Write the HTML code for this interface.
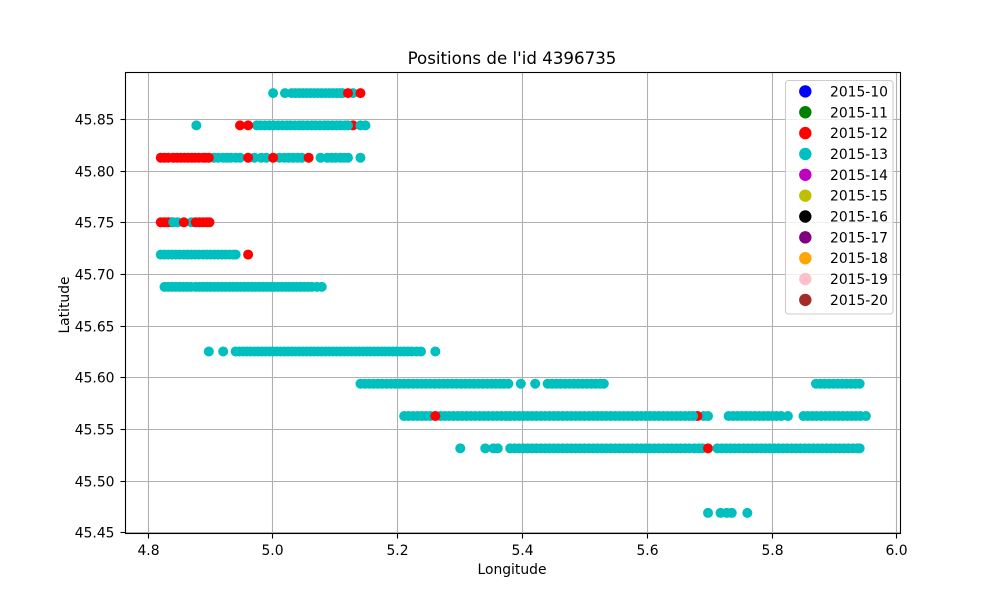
<!DOCTYPE html>
<html lang="en">
<head>
<meta charset="utf-8">
<title>Positions de l'id 4396735</title>
<style>
html,body{margin:0;padding:0;background:#fff;}
svg{display:block;}
text{font-family:"DejaVu Sans","Liberation Sans",sans-serif;fill:#000;}
</style>
</head>
<body>
<svg id="chart" xmlns="http://www.w3.org/2000/svg" width="1000" height="600" viewBox="0 0 1000 600">
  <rect x="0" y="0" width="1000" height="600" fill="#fff"/>
  <text x="512" y="64" font-size="16.67" text-anchor="middle">Positions de l'id 4396735</text>
  <text x="512" y="574" font-size="13.89" text-anchor="middle">Longitude</text>
  <text transform="translate(69,305) rotate(-90)" font-size="13.89" text-anchor="middle">Latitude</text>
  <g id="grid"></g>
  <g id="marks"></g>
  <rect x="125.5" y="72.5" width="775" height="461" fill="none" stroke="#000" stroke-width="1.1"/>
  <g id="ticks"></g>
  <g id="legend"></g>
</svg>
<script>
const xTickValues = [4.8, 5.0, 5.2, 5.4, 5.6, 5.8, 6.0];
const xTickLabels = ["4.8", "5.0", "5.2", "5.4", "5.6", "5.8", "6.0"];
const yTickValues = [45.45, 45.50, 45.55, 45.60, 45.65, 45.70, 45.75, 45.80, 45.85];
const yTickLabels = ["45.45", "45.50", "45.55", "45.60", "45.65", "45.70", "45.75", "45.80", "45.85"];
const legendLabels = ["2015-10", "2015-11", "2015-12", "2015-13", "2015-14", "2015-15", "2015-16", "2015-17", "2015-18", "2015-19", "2015-20"];
const rowLatitudes = [45.875, 45.84375, 45.8125, 45.75, 45.71875, 45.6875, 45.625, 45.59375, 45.5625, 45.53125, 45.46875];

const week13First = [
  [],
  [],
  [],
  [],
  [],
  [],
  [],
  [],
  [5.69, 5.697],
  [5.675, 5.682, 5.688],
  []
];
const week12Under = [
  [],
  [5.128],
  [],
  [4.82, 4.826, 4.832, 4.838],
  [],
  [],
  [],
  [],
  [5.68],
  [5.697],
  []
];
const week13Lons = [
  [5.0, 5.019, 5.03, 5.036, 5.042, 5.048, 5.054, 5.06, 5.066, 5.072, 5.078, 5.084, 5.09, 5.096, 5.102, 5.107, 5.111, 5.128],
  [4.877, 4.974, 4.98, 4.987, 4.994, 5.001, 5.008, 5.015, 5.022, 5.028, 5.035, 5.042, 5.048, 5.055, 5.062, 5.068, 5.075, 5.082, 5.088, 5.095, 5.102, 5.108, 5.115, 5.12, 5.14, 5.148],
  [4.905, 4.912, 4.92, 4.926, 4.932, 4.94, 4.947, 4.97, 4.981, 4.989, 5.01, 5.018, 5.025, 5.032, 5.039, 5.046, 5.076, 5.087, 5.094, 5.1, 5.108, 5.114, 5.12, 5.14],
  [4.84, 4.847, 4.869],
  [4.82, 4.826, 4.832, 4.838, 4.844, 4.85, 4.857, 4.863, 4.869, 4.875, 4.881, 4.888, 4.894, 4.9, 4.906, 4.912, 4.918, 4.924, 4.93, 4.936, 4.94],
  [4.826, 4.832, 4.838, 4.844, 4.85, 4.856, 4.862, 4.868, 4.876, 4.882, 4.888, 4.894, 4.9, 4.906, 4.912, 4.918, 4.924, 4.93, 4.936, 4.942, 4.948, 4.954, 4.96, 4.966, 4.972, 4.978, 4.984, 4.99, 4.996, 5.002, 5.008, 5.014, 5.02, 5.026, 5.032, 5.038, 5.044, 5.05, 5.056, 5.062, 5.07, 5.078],
  [4.897, 4.92, 4.94, 4.946, 4.952, 4.958, 4.964, 4.97, 4.976, 4.982, 4.988, 4.994, 5.0, 5.006, 5.012, 5.018, 5.024, 5.03, 5.036, 5.042, 5.048, 5.054, 5.06, 5.066, 5.072, 5.078, 5.084, 5.09, 5.096, 5.102, 5.108, 5.114, 5.12, 5.126, 5.132, 5.138, 5.144, 5.15, 5.156, 5.162, 5.168, 5.174, 5.18, 5.186, 5.192, 5.198, 5.204, 5.21, 5.216, 5.222, 5.23, 5.237, 5.26],
  [5.14, 5.147, 5.154, 5.161, 5.168, 5.175, 5.182, 5.189, 5.196, 5.203, 5.21, 5.217, 5.224, 5.231, 5.238, 5.245, 5.252, 5.259, 5.266, 5.273, 5.28, 5.287, 5.294, 5.301, 5.308, 5.315, 5.322, 5.329, 5.336, 5.343, 5.35, 5.357, 5.364, 5.37, 5.377, 5.397, 5.42, 5.44, 5.447, 5.454, 5.461, 5.468, 5.475, 5.482, 5.489, 5.496, 5.503, 5.51, 5.517, 5.524, 5.53, 5.87, 5.877, 5.884, 5.891, 5.898, 5.905, 5.912, 5.919, 5.926, 5.933, 5.94],
  [5.21, 5.217, 5.224, 5.231, 5.238, 5.245, 5.252, 5.268, 5.275, 5.282, 5.289, 5.296, 5.303, 5.31, 5.317, 5.324, 5.331, 5.338, 5.345, 5.352, 5.359, 5.366, 5.373, 5.38, 5.387, 5.394, 5.401, 5.408, 5.415, 5.422, 5.429, 5.436, 5.443, 5.45, 5.457, 5.464, 5.471, 5.478, 5.485, 5.492, 5.499, 5.506, 5.513, 5.52, 5.527, 5.534, 5.541, 5.548, 5.555, 5.562, 5.569, 5.576, 5.583, 5.59, 5.597, 5.604, 5.611, 5.618, 5.625, 5.632, 5.639, 5.646, 5.653, 5.66, 5.667, 5.673, 5.73, 5.737, 5.744, 5.751, 5.758, 5.765, 5.772, 5.779, 5.786, 5.793, 5.8, 5.807, 5.814, 5.825, 5.85, 5.857, 5.864, 5.871, 5.878, 5.885, 5.892, 5.899, 5.906, 5.913, 5.92, 5.927, 5.934, 5.941, 5.95],
  [5.3, 5.34, 5.353, 5.36, 5.38, 5.387, 5.394, 5.401, 5.408, 5.415, 5.422, 5.429, 5.436, 5.443, 5.45, 5.457, 5.464, 5.471, 5.478, 5.485, 5.492, 5.499, 5.506, 5.513, 5.52, 5.527, 5.534, 5.541, 5.548, 5.555, 5.562, 5.569, 5.576, 5.583, 5.59, 5.597, 5.604, 5.611, 5.618, 5.625, 5.632, 5.639, 5.646, 5.653, 5.66, 5.667, 5.712, 5.719, 5.726, 5.733, 5.74, 5.747, 5.754, 5.761, 5.768, 5.775, 5.782, 5.789, 5.796, 5.803, 5.81, 5.817, 5.824, 5.831, 5.838, 5.845, 5.852, 5.859, 5.866, 5.873, 5.88, 5.887, 5.894, 5.901, 5.908, 5.915, 5.922, 5.929, 5.936, 5.94],
  [5.697, 5.717, 5.727, 5.735, 5.76]
];
const week12Over = [
  [5.12, 5.14],
  [4.947, 4.96],
  [4.82, 4.826, 4.832, 4.84, 4.846, 4.852, 4.858, 4.864, 4.87, 4.875, 4.881, 4.888, 4.892, 4.897, 4.96, 5.0, 5.057],
  [4.857, 4.876, 4.882, 4.888, 4.894, 4.898],
  [4.96],
  [],
  [],
  [],
  [5.26],
  [],
  []
];

const SVG_NS = "http://www.w3.org/2000/svg";
function xScale(lon) { return 147.6 + (lon - 4.8) * 624; }
function yScale(lat) { return 532.3 - (lat - 45.45) * 1033.4; }
function snap(value) { return Math.floor(value + 0.5) + 0.5; }

function make(tag, attrs, parent) {
  const el = document.createElementNS(SVG_NS, tag);
  for (const key in attrs) el.setAttribute(key, attrs[key]);
  parent.appendChild(el);
  return el;
}

const gridGroup = document.getElementById("grid");
const marksGroup = document.getElementById("marks");
const ticksGroup = document.getElementById("ticks");
const legendGroup = document.getElementById("legend");

xTickValues.forEach(function (value, i) {
  const x = snap(xScale(value));
  const gridLine = make("line", { x1: x, x2: x, y1: 72, y2: 533.5, stroke: "#b0b0b0", "stroke-width": 1.1 }, gridGroup);
  
  
  const tick = make("line", { x1: x, x2: x, y1: 533.5, y2: 538.5, stroke: "#000", "stroke-width": 1.1 }, ticksGroup);
  
  
  const label = make("text", { x: x, y: 555, "font-size": 13.89, "text-anchor": "middle" }, ticksGroup);
  label.textContent = xTickLabels[i];
  
  
});

yTickValues.forEach(function (value, i) {
  const y = snap(yScale(value));
  const gridLine = make("line", { x1: 125, x2: 900, y1: y, y2: y, stroke: "#b0b0b0", "stroke-width": 1.1 }, gridGroup);
  
  
  const tick = make("line", { x1: 120.5, x2: 125.5, y1: y, y2: y, stroke: "#000", "stroke-width": 1.1 }, ticksGroup);
  
  
  const label = make("text", { x: 114.5, y: y + 5, "font-size": 13.89, "text-anchor": "end" }, ticksGroup);
  label.textContent = yTickLabels[i];
  
  
});

function drawLayer(lonsByRow, color, pointName) {
  lonsByRow.forEach(function (lons, row) {
    lons.forEach(function (lon) {
      const point = make("circle", { cx: xScale(lon) + 0.7, cy: yScale(rowLatitudes[row]), r: 5, fill: color }, marksGroup);
      
      
    });
  });
}
drawLayer(week13First, "#00bfbf", "point-2015-13");
drawLayer(week12Under, "#ff0000", "point-2015-12");
drawLayer(week13Lons, "#00bfbf", "point-2015-13");
drawLayer(week12Over, "#ff0000", "point-2015-12");

const legendBox = make("rect", { x: 785.5, y: 80.5, width: 107.5, height: 233.5, rx: 3, ry: 3, fill: "#fff", "fill-opacity": 0.8, stroke: "#cccccc", "stroke-width": 1.1 }, legendGroup);


const legendColors = ["#0000ff", "#008000", "#ff0000", "#00bfbf", "#bf00bf", "#bfbf00", "#000000", "#800080", "#ffa500", "#ffc0cb", "#a52a2a"];
legendLabels.forEach(function (name, i) {
  const y = 91.4 + i * 20.85;
  const swatch = make("circle", { cx: 805.3, cy: y, r: 6.2, fill: legendColors[i] }, legendGroup);
  
  
  const label = make("text", { x: 830, y: y + 5, "font-size": 13.89 }, legendGroup);
  label.textContent = name;
  
  
});
</script>
</body>
</html>
